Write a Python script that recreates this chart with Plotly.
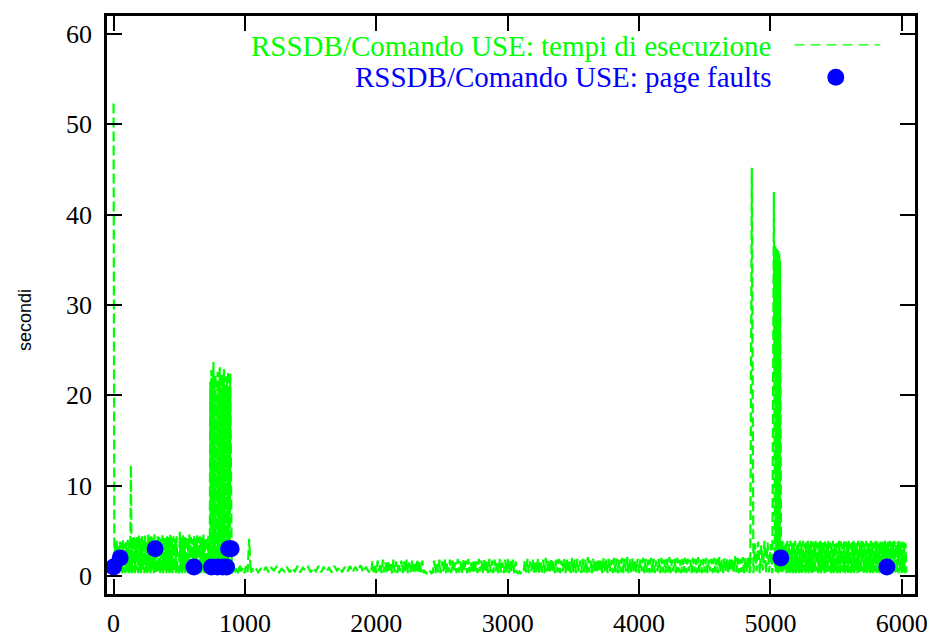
import plotly.graph_objects as go

# ---- execution times (green dashed series) ----
seg_a_start, seg_a_step = 0, 6
seg_a_y = [52.3, 0.4, 3.6, 0.3, 3.9, 0.6, 3.4, 0.3, 3.8, 0.5,
           3.7, 0.3, 4.0, 0.4, 3.6, 0.3, 3.9, 0.5, 4.0, 0.3,
           3.8, 0.4, 12.3, 0.3, 4.2, 0.5, 4.4, 0.3, 4.1, 0.6,
           4.3, 0.3, 4.5, 0.4, 4.2, 0.3, 4.4, 0.7, 4.1, 0.3,
           4.5, 0.4, 3.9, 0.3, 4.6, 0.5, 4.3, 0.3, 4.4, 0.6,
           4.2, 0.3, 4.6, 0.4, 4.0, 0.3, 4.4, 0.5, 4.3, 0.3,
           4.1, 0.4, 4.5, 0.3, 4.3, 0.6, 4.2, 0.3, 4.4, 0.5,
           4.3, 0.3, 4.6, 0.4, 4.2, 0.3, 4.4, 0.5, 4.1, 0.3,
           4.4, 0.3, 0.5, 0.3, 4.9, 0.4, 4.2, 0.3, 4.5, 0.6,
           4.3, 0.3, 4.4, 0.5, 4.2, 0.3, 4.6, 0.4, 4.3, 0.3,
           4.1, 0.6, 4.4, 0.3, 4.2, 0.5, 4.5, 0.3, 4.3, 0.4,
           4.4, 0.3, 4.2, 0.5, 4.6, 0.3, 4.1, 0.4, 4.3, 0.3,
           4.4, 0.5]

seg_b_start, seg_b_step = 732, 4
seg_b_y = [0.5, 21.5, 0.4, 22.8, 1.0, 20.6, 0.3, 23.7, 0.6, 21.9,
           0.4, 22.3, 2.0, 19.8, 0.3, 22.6, 0.5, 21.2, 0.4, 23.1,
           0.8, 20.9, 0.3, 22.4, 0.5, 21.7, 0.3, 22.9, 1.2, 20.4,
           0.4, 22.1, 0.3, 21.5, 0.6, 22.7, 0.3, 21.0, 0.5, 22.4]

seg_c_start, seg_c_step = 900, 12
seg_c_y = [0.3, 1.2, 0.4, 1.0, 0.3, 1.3, 0.5, 0.9, 0.3, 1.1, 0.4, 4.1, 0.3, 0.9]

seg_d_start, seg_d_step = 1060, 20
seg_d_y = [0.5, 0.9, 0.4, 0.8, 0.5, 1.0, 0.4, 0.9, 0.6, 1.0,
           0.4, 0.8, 0.5, 1.0, 0.4, 0.9, 0.5, 1.1, 0.4, 0.9,
           0.6, 1.0, 0.4, 0.9, 0.5, 1.1, 0.4, 1.0, 0.5, 0.9,
           0.4, 1.1, 0.6, 1.0, 0.4, 1.0, 0.5, 1.1, 0.4, 1.0,
           0.5, 1.2, 0.4, 1.0, 0.5]

seg_e_start, seg_e_step = 1960, 10
seg_e_y = [0.3, 1.6, 0.4, 1.2, 0.3, 1.7, 0.5, 1.4, 0.3, 1.8,
           0.4, 1.5, 0.3, 1.7, 0.6, 1.3, 0.3, 1.8, 0.4, 1.6,
           0.3, 1.4, 0.5, 1.7, 0.3, 1.6, 0.4, 1.8, 0.3, 1.5,
           0.4, 1.7, 0.3, 1.3, 0.5, 1.8, 0.3, 1.6, 0.4, 1.7,
           0.3, 0.5, 0.3, 0.6, 0.4, 0.5, 0.3, 0.4, 1.7, 0.3,
           1.5, 0.4, 1.8, 0.3, 1.6, 0.5, 1.9, 0.3, 1.4, 0.4,
           1.8, 0.3, 1.7, 0.5, 1.5, 0.3, 1.9, 0.4, 1.6, 0.3,
           1.8, 0.6, 1.7, 0.3, 1.9, 0.4, 1.5, 0.3, 1.8, 0.4,
           1.6, 0.3, 1.9, 0.5, 1.7, 0.3, 1.8, 0.4, 1.6, 0.3,
           1.9, 0.4, 1.7, 0.3, 1.8, 0.5, 1.6, 0.3, 1.9, 0.4,
           1.5, 0.3, 1.8, 0.4, 1.9, 0.3, 1.7, 0.5, 1.8, 0.3,
           1.6, 0.4, 0.3, 0.5, 0.3, 0.4, 0.3, 1.7, 0.4, 1.9,
           0.3, 1.6, 0.5, 1.8, 0.3, 1.7, 0.4, 1.9, 0.3, 1.5,
           0.4, 1.8, 0.3, 2.0, 0.5, 1.7, 0.3, 1.9, 0.4, 1.6,
           0.3, 1.8, 0.4, 1.9, 0.3, 1.7, 0.5, 1.9, 0.3, 1.8,
           0.4, 1.6, 0.3, 2.0, 0.4, 1.8, 0.3, 1.9, 0.5, 1.7,
           0.3, 1.9, 0.4, 1.8, 0.3, 2.1, 0.4, 1.7, 0.3, 1.9,
           0.5, 1.8, 0.3, 1.9, 0.4, 1.7, 0.3, 2.0, 0.4, 1.8,
           0.3, 1.9, 0.5, 1.8, 0.3, 2.0, 0.4, 1.9, 0.3, 1.8,
           0.4, 2.0, 0.3, 1.9, 0.5, 2.1, 0.3, 1.9, 0.4, 2.0,
           0.3, 1.7, 0.4, 1.9, 0.3, 1.8, 0.5, 2.0, 0.3, 1.9,
           0.4, 1.8, 0.3, 2.0, 0.4, 1.9, 0.3, 1.7, 0.5, 1.9,
           0.3, 2.0, 0.4, 1.8, 0.3, 1.9, 0.4, 2.1, 0.3, 1.8,
           0.5, 1.9, 0.3, 2.0, 0.4, 1.8, 0.3, 1.9, 0.4, 2.0,
           0.3, 1.9, 0.5, 1.8, 0.3, 2.0, 0.4, 1.9, 0.3, 2.1,
           0.4, 1.8, 0.3, 1.9, 0.4, 2.0, 0.3, 1.8, 0.5, 1.9,
           0.3, 2.0, 0.4, 1.9, 0.3, 2.1, 0.4, 1.8, 0.3, 2.0,
           0.4, 1.9, 0.3, 2.0, 0.5, 1.9, 0.3, 2.2, 0.4, 2.0,
           0.3, 1.9, 0.4, 2.1, 0.3, 2.0, 0.4, 2.2, 0.3, 2.0]

seg_f1_start, seg_f1_step = 4846, 12
seg_f1_y = [0.4, 45.2, 0.3, 3.6, 0.5, 3.8, 0.3, 3.4, 0.6, 3.9,
            0.3, 3.7, 0.4, 3.5, 0.3, 42.5]

seg_f2_start, seg_f2_step = 5034, 3
seg_f2_y = [1.0, 36.5, 0.5, 35.8, 0.4, 36.2, 0.6, 35.5, 0.3, 36.0,
            0.5, 35.7, 0.4, 34.9]

seg_f3_start, seg_f3_step = 5080, 6
seg_f3_y = [3.8, 0.4, 3.9, 0.3, 3.5, 0.6, 3.8, 0.3, 3.9, 0.4,
            3.7, 0.3, 3.9, 0.5, 3.6, 0.3, 3.8, 0.4, 3.9, 0.3,
            3.5, 0.5, 3.8, 0.3, 3.9, 0.4, 3.7, 0.3, 3.9, 0.6,
            3.6, 0.3, 3.8, 0.4, 3.9, 0.3, 3.5, 0.5, 3.9, 0.3,
            3.8, 0.4, 3.7, 0.3, 3.9, 0.5, 3.6, 0.3, 3.8, 0.4,
            3.9, 0.3, 3.7, 0.6, 3.9, 0.3, 3.8, 0.4, 3.6, 0.3,
            3.9, 0.5, 3.7, 0.3, 3.8, 0.4, 3.9, 0.3, 3.6, 0.5,
            3.8, 0.3, 3.7, 0.4, 3.9, 0.3, 3.8, 0.5, 3.6, 0.4,
            3.9, 0.3, 3.8, 0.5, 3.7, 0.3, 3.9, 0.4, 3.6, 0.3,
            3.8, 0.4, 3.9, 0.3, 3.7, 0.6, 3.8, 0.3, 3.9, 0.4,
            3.6, 0.3, 3.9, 0.5, 3.8, 0.3, 3.7, 0.4, 3.9, 0.3,
            3.8, 0.5, 3.6, 0.3, 3.9, 0.4, 3.8, 0.3, 3.7, 0.5,
            3.9, 0.3, 3.8, 0.4, 3.6, 0.3, 3.9, 0.5, 3.7, 0.3,
            3.8, 0.4, 3.9, 0.3, 3.6, 0.5, 3.8, 0.3, 3.9, 0.4,
            3.7, 0.3, 3.8, 0.5, 3.9, 0.3, 3.6, 0.4, 3.8, 0.3,
            3.9, 0.5, 3.7, 0.3, 3.8, 0.4, 3.9, 0.3, 3.6, 0.4,
            0.5]

# ---- page faults (blue dots) ----
pf_x = [0, 50, 316, 612, 746, 790, 830, 860, 875, 895, 5079, 5886]
pf_y = [1, 2, 3, 1, 1, 1, 1, 1, 3, 3, 2, 1]

x_ticks = [0, 1000, 2000, 3000, 4000, 5000, 6000]
y_ticks = [0, 10, 20, 30, 40, 50, 60]

legend_exec = "RSSDB/Comando USE: tempi di esecuzione"
legend_pf = "RSSDB/Comando USE: page faults"
y_title = "secondi"

segments = [
    (seg_a_start, seg_a_step, seg_a_y),
    (seg_b_start, seg_b_step, seg_b_y),
    (seg_c_start, seg_c_step, seg_c_y),
    (seg_d_start, seg_d_step, seg_d_y),
    (seg_e_start, seg_e_step, seg_e_y),
    (seg_f1_start, seg_f1_step, seg_f1_y),
    (seg_f2_start, seg_f2_step, seg_f2_y),
    (seg_f3_start, seg_f3_step, seg_f3_y),
]
exec_x, exec_y = [], []
for start, step, vals in segments:
    exec_x += [start + i * step for i in range(len(vals))]
    exec_y += vals

GREEN = "#00ff00"
BLUE = "#0000ff"
SERIF = "Liberation Serif, Times New Roman, serif"

fig = go.Figure()
fig.add_trace(go.Scatter(x=exec_x, y=exec_y, mode="lines",
                         line=dict(color=GREEN, width=2.2, dash="10px,4px", simplify=False),
                         showlegend=False, hoverinfo="skip"))
fig.add_trace(go.Scatter(x=pf_x, y=pf_y, mode="markers",
                         marker=dict(color=BLUE, size=17, line=dict(width=0)),
                         showlegend=False))

axis_common = dict(showline=True, linecolor="black", linewidth=2.5, mirror="ticks",
                   ticks="inside", ticklen=15, tickwidth=2, tickcolor="black",
                   showgrid=False, zeroline=False, automargin=False,
                   tickfont=dict(family=SERIF, size=26, color="black"))

fig.update_layout(
    width=940, height=638,
    margin=dict(l=107, r=25, t=16, b=44),
    paper_bgcolor="white", plot_bgcolor="white",
    xaxis=dict(range=[-50, 6100], tickvals=x_ticks, ticklabelstandoff=4, **axis_common),
    yaxis=dict(range=[-2, 62], tickvals=y_ticks, ticklabelstandoff=7, **axis_common),
)

# gnuplot-style key: right-aligned text, sample to the right
fig.add_annotation(xref="paper", yref="paper", x=0.824, y=0.948, text=legend_exec,
                   showarrow=False, xanchor="right", yanchor="middle",
                   font=dict(family=SERIF, size=29, color=GREEN))
fig.add_annotation(xref="paper", yref="paper", x=0.824, y=0.894, text=legend_pf,
                   showarrow=False, xanchor="right", yanchor="middle",
                   font=dict(family=SERIF, size=29, color=BLUE))
fig.add_shape(type="line", xref="paper", yref="paper", x0=0.851, x1=0.957, y0=0.950, y1=0.950,
              line=dict(color=GREEN, width=1.3, dash="10px,6px"))
fig.add_shape(type="circle", xref="paper", yref="paper",
              x0=0.902 - 0.0105, x1=0.902 + 0.0105, y0=0.894 - 0.0147, y1=0.894 + 0.0147,
              fillcolor=BLUE, line=dict(width=0))

# y-axis label
fig.add_annotation(xref="paper", yref="paper", x=(25 - 107) / 808, y=(594 - 320) / 578,
                   text=y_title, showarrow=False, textangle=-90,
                   xanchor="center", yanchor="middle",
                   font=dict(family="Liberation Sans, Arial, sans-serif", size=18, color="black"))

fig.write_html("out.html")
